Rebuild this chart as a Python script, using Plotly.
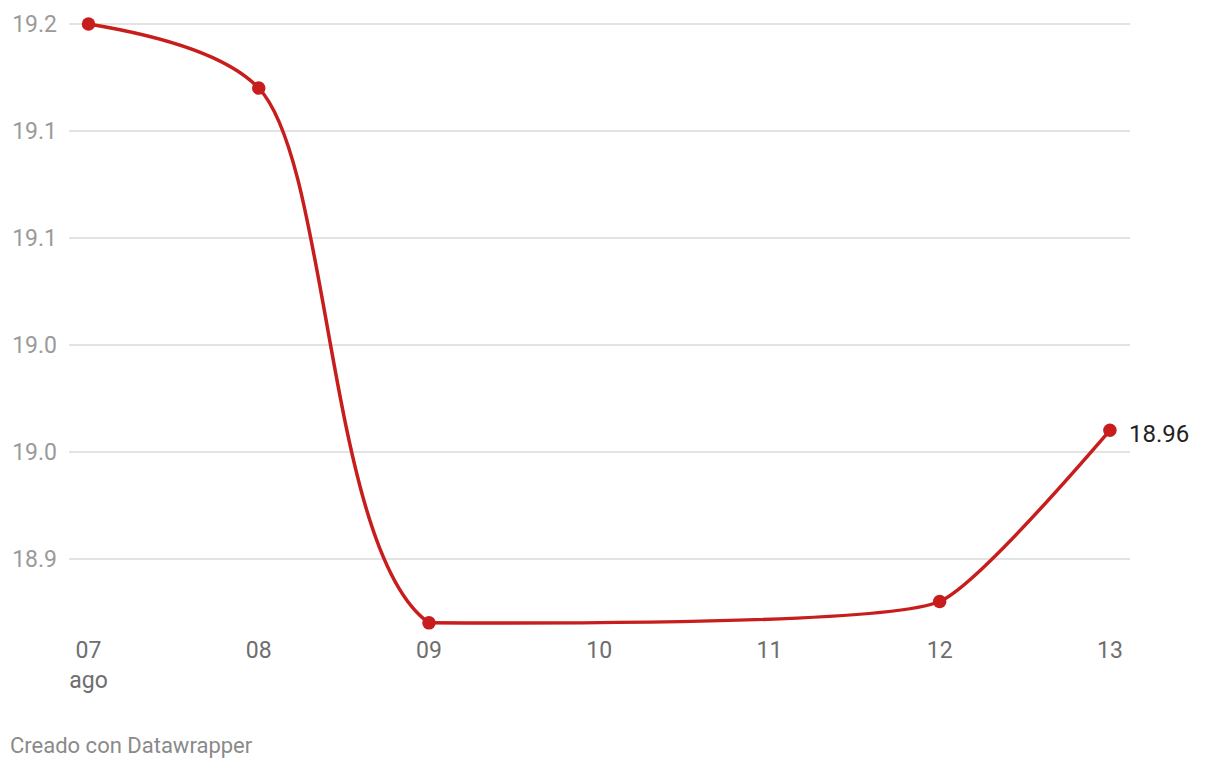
import plotly.graph_objects as go
import pandas as pd

# Data
dates = ["2024-08-07", "2024-08-08", "2024-08-09", "2024-08-12", "2024-08-13"]
values = [19.20, 19.164, 18.864, 18.876, 18.972]
end_label = "18.96"

y_tickvals = [19.20, 19.14, 19.08, 19.02, 18.96, 18.90]
y_ticktext = ["19.2", "19.1", "19.1", "19.0", "19.0", "18.9"]
x_tickvals = ["2024-08-07", "2024-08-08", "2024-08-09", "2024-08-10",
              "2024-08-11", "2024-08-12", "2024-08-13"]
x_ticktext = ["07<br>ago", "08", "09", "10", "11", "12", "13"]

RED = "#c71e1d"
FONT = "Roboto"
X_RANGE = ["2024-08-06 21:15", "2024-08-13 02:50"]
Y_RANGE = [18.860, 19.2022]

# The curve is split at its lowest point so the smoothed line does not
# overshoot below it (like a monotone interpolation). The left part is drawn
# on a helper subplot sharing the same scale, clipped at the lowest point.
low = values.index(min(values))
t0, t1 = pd.Timestamp(X_RANGE[0]), pd.Timestamp(X_RANGE[1])
split_frac = (pd.Timestamp(dates[low]) - t0) / (t1 - t0)

fig = go.Figure()
# right part of the line + its markers (main axes)
fig.add_trace(go.Scatter(
    x=dates[low:], y=values[low:], mode="lines",
    line=dict(color=RED, width=3.5, shape="spline", smoothing=0.45),
    hoverinfo="skip",
))
fig.add_trace(go.Scatter(
    x=dates[low + 1:], y=values[low + 1:], mode="markers",
    marker=dict(color=RED, size=13.5), cliponaxis=False,
))
# left part of the line + its markers (helper axes, same scale)
fig.add_trace(go.Scatter(
    x=dates[:low + 2], y=values[:low + 2], mode="lines",
    line=dict(color=RED, width=3.5, shape="spline", smoothing=0.85),
    hoverinfo="skip", xaxis="x2", yaxis="y2",
))
fig.add_trace(go.Scatter(
    x=dates[:low + 1], y=values[:low + 1], mode="markers",
    marker=dict(color=RED, size=13.5), cliponaxis=False,
    xaxis="x2", yaxis="y2",
))

fig.add_annotation(
    x=dates[-1], y=values[-1], text=end_label, showarrow=False,
    xanchor="left", yanchor="middle", xshift=17, yshift=-4,
    font=dict(family=FONT, size=24, color="#222222"),
)
fig.add_annotation(
    xref="paper", yref="paper", x=0, y=0, xanchor="left", yanchor="bottom",
    xshift=-61, yshift=-130,
    text="Creado con Datawrapper", showarrow=False,
    font=dict(family=FONT, size=22, color="#8a8a8a"),
)

fig.update_layout(
    width=1220, height=770,
    margin=dict(l=61, r=98, t=12, b=148, pad=0),
    paper_bgcolor="white", plot_bgcolor="rgba(0,0,0,0)",
    showlegend=False,
    font=dict(family=FONT),
    xaxis=dict(
        type="date", automargin=False, domain=[0, 1], anchor="y",
        range=X_RANGE,
        tickvals=x_tickvals, ticktext=x_ticktext,
        showgrid=False, zeroline=False, showline=False, ticks="",
        tickfont=dict(family=FONT, size=23, color="#6e6e6e"),
        ticklabelstandoff=4,
    ),
    yaxis=dict(
        automargin=False, domain=[0, 1], anchor="x",
        range=Y_RANGE,
        tickvals=y_tickvals, ticktext=y_ticktext,
        showgrid=True, gridcolor="#e3e3e3", gridwidth=1.5,
        zeroline=False, showline=False, ticks="",
        tickfont=dict(family=FONT, size=23, color="#9a9a9a"),
        ticklabelstandoff=11,
    ),
    xaxis2=dict(type="date", domain=[0, split_frac], range=[X_RANGE[0], dates[low]],
                anchor="y2", visible=False, automargin=False),
    yaxis2=dict(range=Y_RANGE, domain=[0, 1], anchor="x2", visible=False,
                automargin=False),
)

fig.write_html("out.html")
